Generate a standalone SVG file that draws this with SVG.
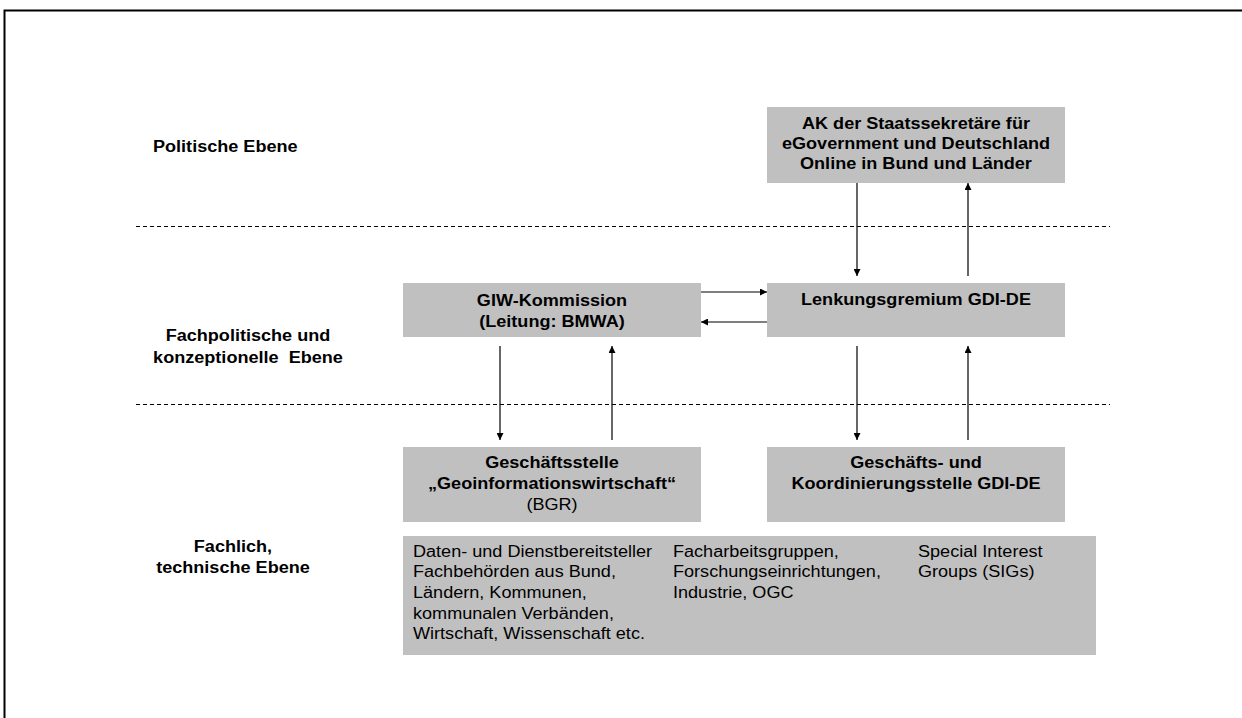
<svg xmlns="http://www.w3.org/2000/svg" width="1242" height="718" viewBox="0 0 1242 718">
<style>
.box{fill:#c0c0c0;}
.b,.r{font-family:"Liberation Sans",Arial,sans-serif;font-size:16px;fill:#000;transform-box:fill-box;transform-origin:left center;transform:scaleX(1.13);}
.b{font-weight:bold;}
.c{text-anchor:middle;transform-origin:center center;}
.dash{stroke:#000;stroke-width:1;stroke-dasharray:4,3;fill:none;}
.arr{stroke:#000;stroke-width:1.2;fill:none;marker-end:url(#ah);}
</style>
<defs>
<marker id="ah" viewBox="0 0 10 10" refX="10" refY="5" markerWidth="7" markerHeight="7" markerUnits="userSpaceOnUse" orient="auto">
<path d="M0,0 L10,5 L0,10 z" fill="#000"/>
</marker>
</defs>
<rect width="1242" height="718" fill="#fff"/>
<path d="M4.5,718 V10.5 H1242" stroke="#000" stroke-width="2" fill="none"/>

<g id="levels">
<text class="b" x="153" y="152">Politische Ebene</text>
<text class="b c" x="248" y="341">Fachpolitische und</text>
<text class="b c" x="248" y="363" xml:space="preserve">konzeptionelle  Ebene</text>
<text class="b c" x="233" y="552">Fachlich,</text>
<text class="b c" x="233" y="573">technische Ebene</text>
<line class="dash" x1="136" y1="226.5" x2="1110" y2="226.5"/>
<line class="dash" x1="136" y1="404.5" x2="1110" y2="404.5"/>
</g>

<g id="ak">
<rect class="box" x="767" y="107" width="298" height="76"/>
<text class="b c" x="916" y="129">AK der Staatssekretäre für</text>
<text class="b c" x="916" y="149">eGovernment und Deutschland</text>
<text class="b c" x="916" y="169">Online in Bund und Länder</text>
</g>

<g id="giw">
<rect class="box" x="403" y="283" width="298" height="54"/>
<text class="b c" x="552" y="306">GIW-Kommission</text>
<text class="b c" x="552" y="327">(Leitung: BMWA)</text>
</g>

<g id="lenkung">
<rect class="box" x="767" y="283" width="298" height="54"/>
<text class="b c" x="916" y="305">Lenkungsgremium GDI-DE</text>
</g>

<g id="gs-giw">
<rect class="box" x="403" y="447" width="298" height="75"/>
<text class="b c" x="552" y="468">Geschäftsstelle</text>
<text class="b c" x="552" y="489">„Geoinformationswirtschaft“</text>
<text class="r c" x="552" y="510">(BGR)</text>
</g>

<g id="gs-gdi">
<rect class="box" x="767" y="447" width="298" height="75"/>
<text class="b c" x="916" y="468">Geschäfts- und</text>
<text class="b c" x="916" y="489">Koordinierungsstelle GDI-DE</text>
</g>

<g id="actors">
<rect class="box" x="403" y="536" width="693" height="119"/>
<text class="r" x="413" y="557">Daten- und Dienstbereitsteller</text>
<text class="r" x="413" y="577">Fachbehörden aus Bund,</text>
<text class="r" x="413" y="598">Ländern, Kommunen,</text>
<text class="r" x="413" y="619">kommunalen Verbänden,</text>
<text class="r" x="413" y="639">Wirtschaft, Wissenschaft etc.</text>
<text class="r" x="673" y="557">Facharbeitsgruppen,</text>
<text class="r" x="673" y="577">Forschungseinrichtungen,</text>
<text class="r" x="673" y="598">Industrie, OGC</text>
<text class="r" x="918" y="557">Special Interest</text>
<text class="r" x="918" y="577">Groups (SIGs)</text>
</g>

<g id="connectors">
<line class="arr" x1="857" y1="183" x2="857" y2="276"/>
<line class="arr" x1="968" y1="276" x2="968" y2="183"/>
<line class="arr" x1="701" y1="292" x2="767" y2="292"/>
<line class="arr" x1="767" y1="322" x2="701" y2="322"/>
<line class="arr" x1="500" y1="346" x2="500" y2="440"/>
<line class="arr" x1="612" y1="440" x2="612" y2="346"/>
<line class="arr" x1="857" y1="346" x2="857" y2="440"/>
<line class="arr" x1="968" y1="440" x2="968" y2="346"/>
</g>
</svg>
